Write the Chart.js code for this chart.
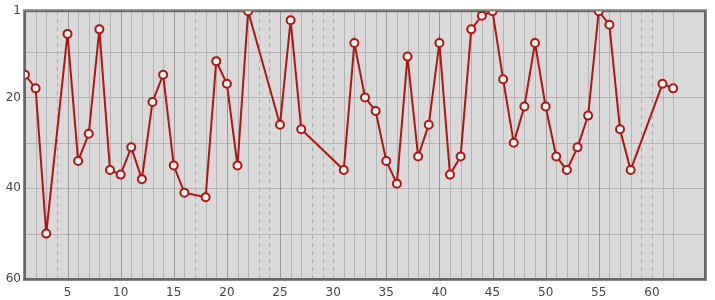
<!DOCTYPE html>
<html>
<head>
<meta charset="utf-8">
<script src="https://cdn.jsdelivr.net/npm/chart.js@4.4.0/dist/chart.umd.min.js"></script>
<style>
  html, body { margin:0; padding:0; background:#fff; }
  #wrap { width:715px; height:300px; }
</style>
</head>
<body>
<div id="wrap"><canvas id="myCanvas" width="715" height="300"></canvas></div>
<script>
// x positions that have a value (gaps are missing entries)
var days = [1,2,3,5,6,7,8,9,10,11,12,13,14,15,16,18,19,20,21,22,25,26,27,31,32,33,34,35,36,37,38,39,40,41,42,43,44,45,46,47,48,49,50,51,52,53,54,55,56,57,58,61,62];
var ranks = [15,18,50,6,34,28,5,36,37,31,38,21,15,35,41,42,12,17,35,1,26,3,27,36,8,20,23,34,39,11,33,26,8,37,33,5,2,1,16,30,22,8,22,33,36,31,24,1,4,27,36,17,18];
var xTickLabels = [5,10,15,20,25,30,35,40,45,50,55,60];
var yTickLabels = [1,20,40,60];
var yGridLines = [10,20,30,40,50];

var points = [];
for (var i = 0; i < days.length; i++) {
  points.push({x: days[i], y: ranks[i]});
}

var gridPlugin = {
  id: 'gridPlugin',
  beforeDatasetsDraw: function(chart) {
    var ctx = chart.ctx;
    var a = chart.chartArea;
    var xs = chart.scales.x, ys = chart.scales.y;
    ctx.save();
    ctx.fillStyle = '#d9d9d9';
    ctx.fillRect(a.left, a.top, a.right - a.left, a.bottom - a.top);
    ctx.lineWidth = 1;
    // horizontal
    ctx.strokeStyle = '#b3b3b3';
    yGridLines.forEach(function(v){
      var py = Math.round(ys.getPixelForValue(v)) + 0.5;
      ctx.beginPath(); ctx.moveTo(a.left, py); ctx.lineTo(a.right, py); ctx.stroke();
    });
    // vertical, one per day from first to last
    var first = days[0], last = days[days.length - 1];
    for (var d = first + 1; d <= last; d++) {
      var px = Math.round(xs.getPixelForValue(d)) + 0.5;
      ctx.beginPath();
      if (days.indexOf(d) < 0) {
        ctx.setLineDash([4, 4]);
        ctx.strokeStyle = '#a8a8a8';
      } else {
        ctx.setLineDash([]);
        ctx.strokeStyle = (d % 5 === 0) ? '#999999' : '#b3b3b3';
      }
      ctx.moveTo(px, a.top); ctx.lineTo(px, a.bottom); ctx.stroke();
    }
    ctx.setLineDash([]);
    // frame
    ctx.strokeStyle = '#8a8a8a';
    ctx.lineWidth = 1;
    ctx.strokeRect(a.left - 1.5, a.top - 1.5, a.right - a.left + 3, a.bottom - a.top + 3);
    ctx.strokeStyle = '#666666';
    ctx.lineWidth = 2;
    ctx.strokeRect(a.left, a.top, a.right - a.left, a.bottom - a.top);
    ctx.restore();
  }
};

var myChart = document.getElementById("myCanvas").getContext('2d');
var chart = new Chart(myChart, {
  type: "line",
  data: {
    datasets: [{
      label: "Rank",
      data: points,
      borderColor: "#b01515",
      borderWidth: 2,
      pointRadius: 4,
      pointBorderWidth: 2,
      pointBackgroundColor: "#f4f4f4",
      pointBorderColor: "#b01515",
      tension: 0,
      fill: false
    }]
  },
  options: {
    responsive: false,
    animation: false,
    events: [],
    layout: { padding: { top: 10, right: 10, left: 0, bottom: 0 } },
    plugins: { legend: { display: false }, tooltip: { enabled: false } },
    scales: {
      x: {
        type: "linear",
        min: 1,
        max: 65,
        grid: { display: false, drawTicks: false },
        border: { display: false },
        afterBuildTicks: function(s){ s.ticks = xTickLabels.map(function(v){ return {value: v}; }); },
        afterFit: function(s){ s.height = 21; },
        ticks: { padding: 7, color: "#444", font: { family: "DejaVu Sans", size: 12 }, autoSkip: false, maxRotation: 0 }
      },
      y: {
        type: "linear",
        reverse: true,
        min: 1,
        max: 60,
        grid: { display: false, drawTicks: false },
        border: { display: false },
        afterBuildTicks: function(s){ s.ticks = yTickLabels.map(function(v){ return {value: v}; }); },
        afterFit: function(s){ s.width = 25; },
        ticks: { padding: 4, color: "#444", font: { family: "DejaVu Sans", size: 12 }, autoSkip: false }
      }
    }
  },
  plugins: [gridPlugin]
});
</script>
</body>
</html>
